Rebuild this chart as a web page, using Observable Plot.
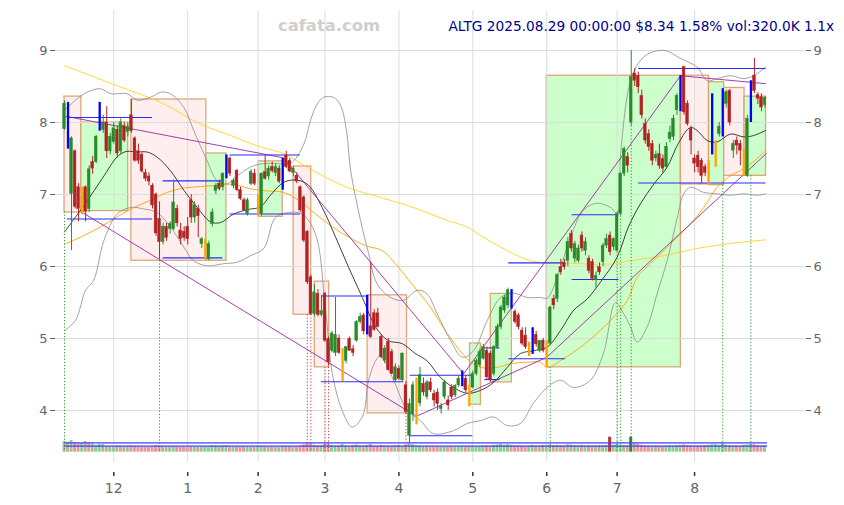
<!DOCTYPE html>
<html><head><meta charset="utf-8">
<script src="https://cdn.jsdelivr.net/npm/d3@7"></script>
<script src="https://cdn.jsdelivr.net/npm/@observablehq/plot@0.6"></script>
<style>body{margin:0;background:#fff}#chart{width:844px;height:505px}</style>
</head><body><div id="chart"></div>
<script>
// ---------- data (trading-day index 0 = 2024-11-11 ... 199 = 2025-08-29) ----------
const monthTickIdx = [14,35,55,74,95,116,137,157,179];
const monthTickLabels = ["12","1","2","3","4","5","6","7","8"];
const priceTicks = [4,5,6,7,8,9];
// [open, high, low, close]
const ohlc = [
[7.91,8.30,7.89,8.26],[8.26,8.28,7.63,7.65],[7.01,7.80,6.22,7.78],[7.60,7.62,6.80,6.83],[7.10,7.15,6.62,6.80],
[6.80,7.10,6.72,6.90],[7.10,7.12,6.62,6.76],[6.80,7.40,6.75,7.35],[7.45,7.53,7.28,7.36],[7.45,7.82,7.43,7.80],
[7.90,8.28,7.88,8.20],[7.90,8.10,7.85,8.00],[8.00,8.22,7.50,7.60],[7.60,7.85,7.55,7.80],[7.73,8.00,7.70,7.92],
[7.90,7.95,7.50,7.57],[7.60,8.05,7.55,8.00],[7.95,8.00,7.72,7.75],[7.87,8.00,7.80,7.94],[8.10,8.32,7.85,7.88],
[7.78,7.80,7.45,7.47],[7.60,7.70,7.42,7.47],[7.55,7.58,7.30,7.32],[7.30,7.35,7.18,7.22],[7.25,7.30,7.12,7.18],
[7.12,7.15,6.80,6.85],[7.00,7.02,6.42,6.46],[6.66,6.90,6.10,6.34],[6.34,6.60,6.30,6.55],[6.55,6.60,6.35,6.40],
[6.52,6.62,6.45,6.59],[6.52,7.20,6.50,6.89],[6.80,6.85,6.55,6.60],[6.50,6.60,6.30,6.38],[6.48,6.55,6.35,6.40],
[6.55,6.68,6.30,6.38],[6.92,7.00,6.60,6.68],[6.68,6.90,6.60,6.85],[6.80,6.85,6.40,6.70],[6.31,6.40,6.25,6.38],
[6.20,6.38,6.10,6.30],[6.10,6.35,6.08,6.31],[6.59,6.80,6.55,6.75],[7.05,7.15,7.00,7.12],[7.15,7.20,7.05,7.08],
[7.10,7.30,7.05,7.29],[7.24,7.55,7.22,7.52],[7.50,7.52,7.25,7.29],[7.12,7.22,7.08,7.19],[7.33,7.35,7.04,7.06],
[7.06,7.10,6.92,6.94],[6.92,6.95,6.76,6.78],[6.73,6.95,6.70,6.92],[7.15,7.35,7.12,7.31],[7.29,7.35,7.12,7.15],
[6.72,7.00,6.70,6.94],[6.73,7.30,6.70,7.29],[7.31,7.54,7.20,7.22],[7.25,7.40,7.20,7.36],[7.38,7.45,7.30,7.33],
[7.30,7.42,7.25,7.38],[7.36,7.40,7.15,7.18],[7.08,7.50,7.06,7.45],[7.54,7.60,7.36,7.38],[7.47,7.50,7.30,7.32],
[7.30,7.39,7.25,7.36],[7.26,7.30,7.15,7.18],[7.10,7.12,6.75,6.78],[6.96,6.98,6.33,6.36],[6.48,6.50,5.75,5.78],
[5.85,5.88,5.32,5.34],[5.34,5.75,5.30,5.64],[5.62,5.68,5.30,5.33],[5.33,5.60,5.30,5.38],[5.62,5.64,4.95,4.97],
[4.99,5.02,4.62,4.67],[4.83,5.10,4.80,5.07],[4.80,5.57,4.75,5.05],[5.00,5.05,4.78,4.80],[4.60,4.86,4.40,4.70],
[4.69,4.88,4.65,4.88],[4.99,5.02,4.82,4.83],[4.85,4.90,4.75,4.80],[4.97,5.25,4.95,5.23],[5.23,5.35,5.20,5.30],
[5.32,5.35,5.05,5.10],[5.07,5.60,5.05,5.58],[5.17,6.06,5.00,5.02],[5.35,5.40,5.10,5.12],[5.35,5.42,5.15,5.16],
[5.02,5.05,4.72,4.74],[4.69,4.90,4.65,4.86],[4.95,5.00,4.55,4.56],[4.81,4.85,4.50,4.51],[4.42,4.65,4.40,4.60],
[4.58,4.62,4.42,4.44],[4.42,4.80,4.40,4.79],[4.35,4.40,3.95,3.98],[3.65,4.16,3.55,4.09],[3.95,4.40,3.85,4.35],
[3.85,4.45,3.80,4.42],[4.10,4.60,4.05,4.49],[4.37,4.45,4.20,4.25],[4.19,4.42,4.15,4.39],[4.39,4.45,4.25,4.28],
[4.23,4.28,4.05,4.14],[4.25,4.30,4.00,4.09],[4.02,4.10,3.95,4.06],[4.19,4.42,4.15,4.39],[4.14,4.20,4.00,4.07],
[4.32,4.36,4.15,4.19],[4.21,4.36,4.18,4.34],[4.35,4.48,4.32,4.44],[4.35,4.55,4.33,4.53],[4.44,4.48,4.25,4.28],
[4.10,4.35,4.05,4.30],[4.32,4.55,4.30,4.51],[4.51,4.72,4.48,4.69],[4.63,4.85,4.60,4.81],[4.72,4.92,4.70,4.88],
[4.83,4.88,4.42,4.46],[4.79,4.82,4.40,4.43],[4.51,4.90,4.48,4.88],[4.88,5.20,4.85,5.16],[5.16,5.46,5.12,5.43],
[5.39,5.60,5.35,5.57],[5.46,5.70,5.42,5.67],[5.62,5.68,5.41,5.45],[5.37,5.40,5.20,5.23],[5.32,5.35,5.12,5.16],
[5.11,5.15,4.90,4.93],[5.04,5.15,4.85,4.88],[4.81,4.95,4.75,4.90],[4.81,5.15,4.78,5.11],[5.05,5.10,4.88,4.92],
[4.83,4.97,4.80,4.97],[4.97,5.00,4.80,4.83],[4.65,4.97,4.60,4.95],[4.93,5.45,4.90,5.43],[5.55,5.60,5.40,5.46],
[5.55,5.90,5.50,5.88],[5.99,6.10,5.88,5.92],[6.05,6.10,5.95,5.99],[6.08,6.40,6.00,6.34],[6.45,6.50,6.20,6.25],
[6.11,6.35,6.05,6.31],[6.08,6.30,6.05,6.25],[6.43,6.48,6.20,6.25],[6.22,6.40,6.15,6.34],[6.11,6.15,5.90,5.94],
[6.06,6.10,5.80,5.83],[5.81,5.92,5.70,5.87],[5.99,6.05,5.88,5.92],[6.06,6.32,6.00,6.29],[6.29,6.45,6.25,6.38],
[6.43,6.48,6.15,6.20],[6.27,6.40,6.22,6.38],[6.22,6.76,6.20,6.73],[6.73,7.30,6.70,7.29],[7.29,7.66,7.25,7.63],
[7.52,7.58,7.30,7.40],[8.00,9.00,7.95,8.63],[8.68,8.75,8.50,8.58],[8.65,8.70,8.40,8.49],[8.37,8.45,8.05,8.10],
[7.98,8.05,7.70,7.75],[7.84,7.90,7.60,7.66],[7.70,7.75,7.40,7.47],[7.50,7.60,7.45,7.55],[7.56,7.70,7.35,7.40],
[7.49,7.55,7.30,7.36],[7.38,7.72,7.35,7.66],[7.77,7.95,7.72,7.86],[7.80,8.10,7.75,8.05],[8.17,8.40,8.10,8.37],
[8.17,8.65,8.15,8.65],[8.77,8.77,8.10,8.14],[8.26,8.30,7.95,7.98],[7.91,7.95,7.55,7.75],[7.50,7.55,7.30,7.43],
[7.54,7.60,7.30,7.38],[7.47,7.50,7.15,7.26],[7.38,7.42,7.25,7.30],[7.15,7.47,7.13,7.47],[7.61,8.40,7.55,8.03],
[7.57,7.75,7.38,7.75],[7.84,8.00,7.80,7.94],[7.84,8.47,7.80,8.47],[8.26,8.45,8.20,8.42],[8.44,8.46,7.95,8.00],
[7.61,7.75,7.50,7.70],[7.75,7.80,7.55,7.68],[7.70,7.75,7.40,7.61],[7.26,7.63,7.25,7.63],[7.26,8.10,7.24,8.05],
[8.03,8.58,8.00,8.58],[8.65,8.89,8.40,8.44],[8.38,8.42,8.25,8.33],[8.35,8.40,8.15,8.21],[8.24,8.36,8.20,8.34]
];
const volumeK = [
510,465,560,465,430,420,510,440,400,320, 370,360,250,240,250,300,280,260,270,300,
280,260,240,250,230,270,300,320,260,240, 230,270,250,240,230,220,260,240,230,250,
270,240,300,290,260,280,300,270,250,240, 230,260,250,240,230,280,260,250,240,230,
240,220,280,260,250,230,260,300,350,420, 400,330,300,320,380,400,330,290,310,380,
300,280,320,350,300,290,330,370,300,280, 320,290,300,270,310,330,280,350,420,360,
300,280,260,270,240,250,260,230,250,240, 260,250,240,270,250,260,280,240,260,290,
300,280,330,350,380,340,360,330,300,310, 290,280,300,330,280,290,320,300,350,320,
330,310,300,360,340,320,310,330,290,310, 300,280,320,310,330,720,340,380,350,330,
300,720,420,380,330,300,290,280,300,270, 260,280,300,290,310,330,350,320,300,280,
290,300,310,330,350,370,330,400,340,310, 290,300,280,330,350,380,360,310,290,320
];
const volumeRefK = [288, 450];
const blueIdx = [1,10,46,62,86,113,127,133,175,184,187,195];
const orangeIdx = [5,40,55,79,100,115,132,137,183,185,193];
// indicator lines [index, price]
const sma20 = [[0,6.48],[6,6.88],[10.7,7.22],[15.3,7.54],[17.8,7.6],[20.2,7.59],[23.5,7.59],[26.3,7.52],[30.1,7.33],[33.9,7.06],[37.7,6.82],[41.5,6.62],[44.3,6.61],[48.1,6.73],[51.9,6.79],[55.7,6.83],[58.5,6.99],[62.3,7.17],[66.1,7.2],[69.3,7.13],[73.2,6.82],[77,6.41],[80.7,5.99],[84.6,5.57],[88.4,5.16],[92,4.97],[95.9,4.93],[99.7,4.79],[103,4.69],[106.8,4.46],[110.5,4.32],[114.4,4.24],[118.2,4.28],[121.9,4.39],[125.8,4.6],[129.5,4.79],[133.2,4.83],[137.1,4.88],[140.9,5.11],[144.6,5.39],[148.5,5.55],[152.5,5.8],[157,6.13],[160.2,6.55],[163.6,6.87],[167.5,7.15],[171.2,7.38],[174.5,7.72],[177.8,7.93],[179.7,7.89],[182.6,7.75],[185.4,7.73],[189.2,7.84],[193,7.8],[195.8,7.82],[199.2,7.89]];
const bbUpper = [[0,8.17],[3.6,8.33],[6.4,8.42],[10.2,8.47],[13.1,8.4],[17.8,8.4],[20.7,8.31],[24.4,8.35],[27.3,8.42],[30.1,8.4],[33.9,8.21],[36.7,7.89],[40.5,7.47],[43.4,7.19],[46.2,7.15],[49.1,7.26],[52.8,7.38],[56.6,7.43],[60.4,7.43],[64.2,7.43],[68,7.7],[69.9,8.03],[71.6,8.24],[73.6,8.35],[76.4,8.35],[78.4,8.24],[80.1,7.89],[81.3,7.33],[84.1,6.64],[86.4,6.18],[88.8,5.76],[92.6,5.57],[96.3,5.53],[100.2,5.67],[103,5.62],[105.9,5.34],[109.7,4.97],[113,4.74],[116.2,4.83],[120.1,5.25],[123.9,5.57],[127.6,5.63],[131.4,5.57],[135.2,5.57],[137.1,5.56],[140,5.85],[143.8,6.41],[147.4,6.78],[151.3,6.88],[155.1,6.82],[157,6.74],[158,7.57],[160.8,8.58],[163.6,8.86],[166.5,8.97],[170.7,9.0],[175,8.89],[179.7,8.77],[182.6,8.58],[185.4,8.61],[189.2,8.65],[193,8.61],[195.8,8.65],[199.2,8.77]];
const bbLower = [[0,5.11],[3.1,5.25],[6,5.67],[8.3,5.81],[11.2,6.36],[15,6.73],[18.8,6.82],[22.5,6.8],[26.3,6.75],[30.1,6.55],[33.9,6.27],[36.7,6.08],[40.5,6.01],[45.3,6.04],[49.1,6.06],[52.8,6.15],[56.6,6.25],[59.9,6.68],[63.6,6.75],[67.5,6.73],[71.3,6.45],[74.1,5.43],[76.1,4.51],[78.9,4.0],[81.7,3.77],[84.6,3.91],[86.4,4.42],[88.4,4.69],[89.8,4.76],[93.5,4.42],[97.4,4.0],[101.1,3.86],[104.8,3.68],[110.5,3.72],[114.4,3.82],[118.2,3.86],[121.9,3.91],[125.8,3.79],[129.5,3.82],[133.2,4.1],[137.1,4.32],[140.9,4.42],[144.6,4.32],[149.4,4.42],[153.1,4.79],[156.5,5.5],[158.8,5.35],[160.8,5.16],[162.7,4.95],[165.5,5.16],[168.4,5.63],[171.2,6.08],[174.1,6.68],[175.9,7.01],[177.8,7.1],[181.6,7.03],[185.4,7.01],[189.2,6.99],[193,7.01],[196.8,6.99],[199.2,7.01]];
const ma50 = [[0,6.31],[5.5,6.43],[10.2,6.55],[15,6.69],[19.7,6.82],[24.4,6.92],[29.2,7.03],[33.9,7.09],[38.6,7.11],[43.4,7.13],[48.1,7.14],[52.8,7.08],[57.6,7.05],[62.3,7.03],[66.5,6.92],[71.3,6.73],[76.1,6.55],[80.7,6.41],[85.5,6.29],[90.3,6.22],[94,6.04],[97.8,5.81],[104,5.43],[108.7,5.07],[114.4,4.72],[118.2,4.6],[122.9,4.6],[126.7,4.65],[131.4,4.67],[135.2,4.67],[137.1,4.6],[141.8,4.72],[146.6,4.88],[151.3,5.07],[156.1,5.3],[159.9,5.53],[162.7,5.85],[166.5,6.04],[170.3,6.22],[174.1,6.41],[177.8,6.59],[181.6,6.82],[185.4,7.1],[189.2,7.26],[193,7.36],[196.8,7.5],[199.2,7.61]];
const ma200 = [[0,8.79],[15,8.51],[27.3,8.28],[38.6,7.98],[47.2,7.82],[55.7,7.66],[62.2,7.57],[70.7,7.33],[80.3,7.1],[89.8,6.96],[99.1,6.82],[108.7,6.64],[114.4,6.55],[118.2,6.43],[125.8,6.22],[132.4,6.08],[137.1,6.05],[141.8,6.05],[151.3,6.03],[156.1,6.04],[160.8,6.08],[170.3,6.15],[175,6.2],[179.7,6.25],[189.2,6.32],[199.2,6.37]];
const trendUpper = [[0,8.09],[62.2,7.51],[113.4,4.51],[175,8.65],[199.1,8.54]];
const trendLower = [[5.1,6.75],[100,3.92],[137,4.74],[199.4,7.57]];
// horizontal levels: [startIdx, endIdx, price]
const levels = [[0.8,25,8.07],[0.8,25,6.66],[28,45,7.19],[28,45,6.12],[47,67,7.55],[47,67,6.73],[73,86.4,5.59],[73,96.4,4.40],[98.2,116,4.49],[98.2,116,3.65],[119.4,123.7,4.87],[119.4,123.7,4.43],[126.2,142.3,6.05],[126.2,142.3,4.72],[144.2,157.5,6.72],[144.2,157.5,5.82],[163.1,199.3,8.75],[163.1,199.3,7.16]];
// boxes: [startIdx, endIdx, top, bottom, kind]
const boxes = [[0,4.8,8.36,6.75,"down"],[4.8,18.1,8.0,6.77,"up"],[19,40.3,8.32,6.08,"down"],[40.3,46,7.57,6.08,"up"],[55.1,62,7.46,6.69,"up"],[65.1,70.1,7.39,5.33,"down"],[71.1,75.2,5.79,4.6,"down"],[86.1,97.3,5.6,3.96,"down"],[115.2,118.3,4.93,4.08,"up"],[121.1,127.1,5.62,4.39,"up"],[137,175.1,8.65,4.6,"up"],[175.1,183.1,8.65,7.14,"down"],[183.1,187.4,8.56,7.13,"up"],[187.4,193.2,8.48,7.26,"down"],[193.2,199.3,8.36,7.26,"up"]];
// signal drop lines: [index, startPrice, kind]
const signals = [[0,6.76,"up"],[27,6.08,"down"],[69,5.33,"down"],[70,5.33,"down"],[74,4.6,"down"],[75,4.6,"down"],[97,3.96,"down"],[138,4.6,"up"],[157,6.2,"up"],[158,6.7,"up"],[161,7.95,"up"],[187,7.13,"up"],[195,7.26,"up"]];

// ---------- build ----------
const volBase = 3.421, kPerPrice = 3456;
const candles = ohlc.map(([o,h,l,c],i)=>({i,o,h,l,c,v:volumeK[i],
  kind: blueIdx.includes(i)?"blue":orangeIdx.includes(i)?"orange":(c>=o?"up":"down")}));
const normal = candles.filter(d=>d.kind==="up"||d.kind==="down");
const special = candles.filter(d=>d.kind==="blue"||d.kind==="orange");
const cColor = {up:"#2a8a2a",down:"#b22222",blue:"#0000ff",orange:"#ffa500"};
const toPts = a=>a.map(([i,p])=>({i,p}));
const xDom=[-2.557,210.51], yDom=[3.278,9.556];

const chart = Plot.plot({
  width:844,height:505,marginTop:10,marginBottom:43,marginLeft:55,marginRight:39,
  x:{domain:xDom,axis:null},
  y:{domain:yDom,axis:null},
  style:{fontFamily:"DejaVu Sans",fontSize:"13px",background:"#fff",overflow:"visible"},
  marks:[
    Plot.rect(boxes,{x1:d=>d[0],x2:d=>d[1],y1:d=>d[3],y2:d=>d[2],
      fill:d=>d[4]==="up"?"#ccffcc":"#ffeeee",stroke:"#dc9c68",strokeWidth:1.3,strokeOpacity:0.9}),
    Plot.ruleX(monthTickIdx,{y1:yDom[0],y2:yDom[1],stroke:"#dcdcdc",strokeWidth:1}),
    Plot.ruleY(priceTicks,{x1:xDom[0],x2:xDom[1],stroke:"#dcdcdc",strokeWidth:1}),
    // volume
    Plot.rect(candles,{x1:d=>d.i-0.42,x2:d=>d.i+0.42,y1:volBase,y2:d=>volBase+d.v/kPerPrice,
      fill:d=>{const up=d.c>=d.o; if(d.v>600) return up?"#2a8a2a":"#c03030"; return up?"#8fcc8f":"#e39a9a";}}),
    Plot.ruleY(volumeRefK,{y:d=>volBase+d/kPerPrice,x1:0,x2:199.7,stroke:"#4040ff",strokeWidth:1.2}),
    // moving averages and bands
    Plot.line(toPts(ma200),{x:"i",y:"p",stroke:"#ffd21f",strokeWidth:0.9,curve:"catmull-rom"}),
    Plot.line(toPts(ma50),{x:"i",y:"p",stroke:"#ffa500",strokeWidth:0.9,curve:"catmull-rom"}),
    Plot.line(toPts(bbUpper),{x:"i",y:"p",stroke:"#8c8c8c",strokeWidth:0.8,curve:"catmull-rom"}),
    Plot.line(toPts(bbLower),{x:"i",y:"p",stroke:"#8c8c8c",strokeWidth:0.8,curve:"catmull-rom"}),
    Plot.line(toPts(sma20),{x:"i",y:"p",stroke:"#111",strokeWidth:0.8,curve:"catmull-rom"}),
    Plot.line(toPts(trendUpper),{x:"i",y:"p",stroke:"#9a2a9a",strokeWidth:0.9}),
    Plot.line(toPts(trendLower),{x:"i",y:"p",stroke:"#9a2a9a",strokeWidth:0.9}),
    // level lines
    Plot.ruleY(levels,{y:d=>d[2],x1:d=>d[0],x2:d=>d[1],stroke:"#2b2bff",strokeWidth:1.1}),
    // signal lines
    Plot.ruleX(signals,{x:d=>d[0],y1:d=>d[1],y2:volBase,stroke:d=>d[2]==="up"?"#2a9a2a":"#cc4040",
      strokeWidth:1,strokeDasharray:"1.2,2"}),
    // candles
    Plot.ruleX(normal,{x:"i",y1:"l",y2:"h",stroke:d=>cColor[d.kind],strokeWidth:1}),
    Plot.rect(normal,{x1:d=>d.i-0.38,x2:d=>d.i+0.38,y1:"o",y2:"c",fill:d=>cColor[d.kind],stroke:d=>cColor[d.kind],strokeWidth:0.5}),
    Plot.ruleX(special,{x:"i",y1:"l",y2:"h",stroke:d=>cColor[d.kind],strokeWidth:2.3}),
    // axes
    Plot.axisY(priceTicks,{anchor:"left",tickSize:5,tickPadding:3,color:"#666",fontSize:13,label:null,tickFormat:d=>String(d)}),
    Plot.axisY(priceTicks,{anchor:"right",tickSize:5,tickPadding:3,color:"#666",fontSize:13,label:null,tickFormat:d=>String(d)}),
    Plot.ruleX(monthTickIdx,{y1:3.139,y2:3.083,stroke:"#333",strokeWidth:1.5}),
    Plot.text(monthTickIdx,{x:d=>d,y:2.917,text:(d,i)=>monthTickLabels[i],fill:"#666",fontSize:14,lineAnchor:"middle"})
  ]
});
document.getElementById("chart").appendChild(chart);
const svg = d3.select(chart);
svg.append("text").attr("x",329).attr("y",31).attr("font-family","DejaVu Sans").attr("font-weight","bold")
  .attr("font-size","16.4px").attr("fill","#cfcfcf").text("cafata.com");
svg.append("text").attr("x",834).attr("y",31).attr("text-anchor","end").attr("font-family","DejaVu Sans")
  .attr("font-size","13.7px").attr("fill","#00008b").text("ALTG 2025.08.29 00:00:00 $8.34 1.58% vol:320.0K 1.1x");
</script></body></html>
